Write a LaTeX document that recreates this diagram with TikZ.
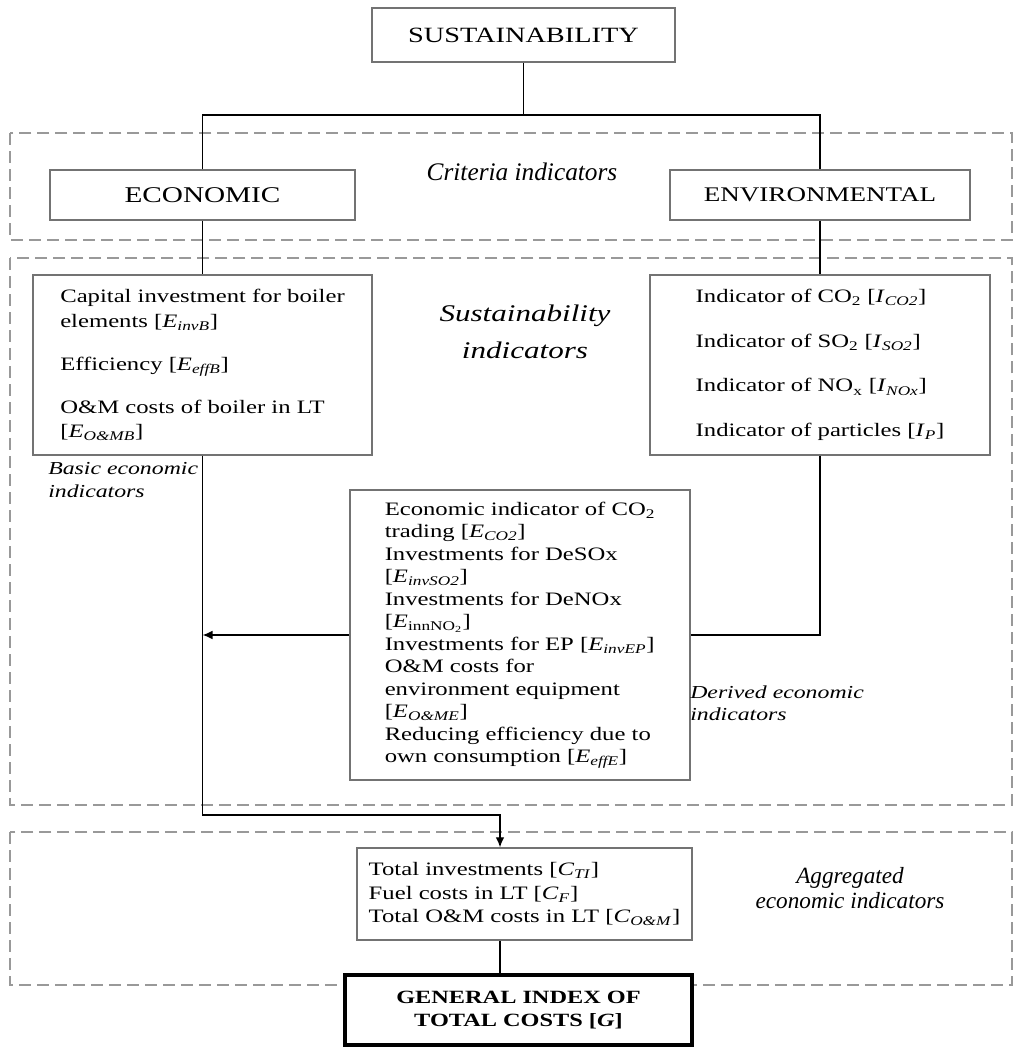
\documentclass[tikz,border=0pt]{standalone}
\usepackage{fontspec}
\setmainfont{Liberation Serif}[FakeStretch=1.3]
\newfontfamily\plainserif{Liberation Serif}
\usetikzlibrary{arrows.meta}

\newcommand{\sym}[2]{\textit{#1}\textsubscript{\textit{#2}}}

\begin{document}
\begin{tikzpicture}[x=0.025cm, y=-0.025cm,
    box/.style={draw=black!55, line width=1pt, fill=white},
    zone/.style={draw=black!40, line width=1pt, dash pattern=on 3mm off 1.5mm},
    txt/.style={font=\fontsize{13.5}{16}\selectfont, align=left},
    wire/.style={line width=1pt},
    arr/.style={wire, -{Latex[length=2.5mm,width=2.2mm]}},
    note/.style={font=\itshape\fontsize{13}{16}\selectfont, align=left, inner sep=0pt}]

    \useasboundingbox (0,0) rectangle (1025,1050);

    % dashed groups
    \draw[zone] (10,133) rectangle (1012,240);
    \draw[zone] (10,258) rectangle (1012,805);
    \draw[zone] (10,832) rectangle (1012,985);

    % boxes
    \node[box, minimum width=7.575cm, minimum height=1.35cm,
          font=\fontsize{15.5}{17}\selectfont] (sust) at (523.5,35) {SUSTAINABILITY};
    \node[box, minimum width=7.625cm, minimum height=1.25cm,
          font=\fontsize{16}{18}\selectfont] (econ) at (202.5,195) {ECONOMIC};
    \node[box, minimum width=7.5cm, minimum height=1.25cm,
          font=\fontsize{14.8}{18}\selectfont] (env) at (820,195) {ENVIRONMENTAL};

    \node[box, txt, minimum width=8.475cm, minimum height=4.5cm,
          font=\fontsize{13.5}{17.5}\selectfont] (basic) at (202.5,365)
        {Capital investment for boiler\\ elements [\sym{E}{invB}]\\[0.46cm]
         Efficiency [\sym{E}{effB}]\\[0.46cm]
         O\&M costs of  boiler in LT\\{}[\sym{E}{O\&MB}]};
    \node[box, txt, minimum width=8.5cm, minimum height=4.5cm,
          font=\fontsize{13.5}{17.5}\selectfont] (emis) at (820,365)
        {Indicator of CO\textsubscript{2} [\sym{I}{CO2}]\\[0.5cm]
         Indicator of SO\textsubscript{2} [\sym{I}{SO2}]\\[0.5cm]
         Indicator of NO\textsubscript{x} [\sym{I}{NOx}]\\[0.5cm]
         Indicator of particles [\sym{I}{P}]};
    \node[box, txt, minimum width=8.5cm, minimum height=7.25cm] (derived) at (520,635)
        {Economic indicator of CO\textsubscript{2}\\
         trading [\sym{E}{CO2}]\\
         Investments for DeSOx\\{}%
         [\sym{E}{invSO2}]\\
         Investments for DeNOx\\{}%
         [\textit{E}\textsubscript{innNO\textsubscript{2}}]\\
         Investments for EP [\sym{E}{invEP}]\\
         O\&M costs for\\
         environment equipment\\{}%
         [\sym{E}{O\&ME}]\\
         Reducing efficiency due to\\
         own consumption [\sym{E}{effE}]};
    \node[box, txt, minimum width=8.375cm, minimum height=2.3cm,
          font=\fontsize{13.5}{16.7}\selectfont] (total) at (524.5,894)
        {Total investments [\sym{C}{TI}]\\
         Fuel costs in LT [\sym{C}{F}]\\
         Total O\&M costs in LT [\sym{C}{O\&M}]};
    \node[box, draw=black, line width=2.5pt, minimum width=8.675cm, minimum height=1.75cm,
          align=center, font=\bfseries\fontsize{13.3}{17}\selectfont] (index) at (518.5,1010)
        {GENERAL INDEX OF\\ TOTAL COSTS [\textit{G}]};

    % group labels
    \node[note, font=\plainserif\itshape\fontsize{18}{20}\selectfont] (crit) at (522,172)
        {Criteria indicators};
    \node[note, align=center, font=\itshape\fontsize{17}{26}\selectfont] (sind) at (525,332)
        {Sustainability\\ indicators};
    \node[note, anchor=west] (bind) at (48,480) {Basic economic\\ indicators};
    \node[note, anchor=west] (dind) at (690,703) {Derived economic\\ indicators};
    \node[note, align=center, font=\plainserif\itshape\fontsize{16.5}{18}\selectfont] (aind) at (850,888)
        {Aggregated\\ economic indicators};

    % connectors
    \coordinate (split) at (523.5,115);
    \coordinate (join) at (500,815);
    \draw[wire] (sust) -- (split);
    \draw[wire] (econ.north) |- (split) -| (env.north);
    \draw[wire] (econ) -- (basic);
    \draw[wire] (env) -- (emis);
    \draw[arr] (basic.south) |- (join) -- (join |- total.north);
    \draw[arr] (derived.west) -- (derived.west -| basic.south);
    \draw[wire] (emis.south) |- (derived.east);
    \draw[wire] (total.south -| join) -- (index.north -| join);
\end{tikzpicture}
\end{document}
